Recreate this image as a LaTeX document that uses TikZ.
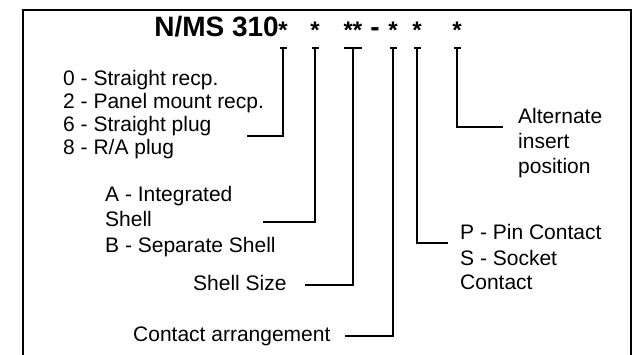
\documentclass[tikz,border=0pt]{standalone}
\usepackage{fontspec}
\setmainfont{Liberation Sans}
\begin{document}
\begin{tikzpicture}[x=1pt, y=-1pt, font=\fontsize{21}{24}\selectfont,
  lbl/.style={anchor=base west, inner sep=0pt},
  code/.style={anchor=base, inner sep=0pt, font=\fontsize{24}{28}\selectfont\bfseries},
  tee/.style={line width=2.4pt, draw=black},
  lead/.style={line width=1.4pt, draw=black}]
\useasboundingbox (0,0) rectangle (635,355);
% frame, open at the bottom
\draw[line width=2.2pt] (23,355) -- (23,10) -- (631,10) -- (631,355);
% ---- part number
\node[anchor=base east, inner sep=0pt, font=\fontsize{28}{32}\selectfont\bfseries] (title) at (279,37) {N/MS 310};
\node[anchor=base, inner sep=0pt, font=\fontsize{28}{32}\selectfont\bfseries] (dash) at (375,37) {-};
\foreach \n/\x/\s/\w in {1/283/*/3.5, 2/315/*/3.5, 3/353/**/9, 4/393/*/3.5, 5/417/*/3.5, 6/457/*/3.5} {
  \node[code] (s\n) at (\x,39) {\s};
  \coordinate (t\n) at (\x,48);
  \draw[tee] (\x-\w,48) -- (\x+\w,48);
}
% ---- left labels
\node[lbl] (rcp0) at (63,86) {0 - Straight recp.};
\node[lbl] (rcp2) at (63,109) {2 - Panel mount recp.};
\node[lbl] (plug6) at (63,132) {6 - Straight plug};
\node[lbl] (plug8) at (63,155) {8 - R/A plug};
\node[lbl] (shA) at (105,202) {A - Integrated};
\node[lbl] (shA2) at (105,227) {Shell};
\node[lbl] (shB) at (105,253) {B - Separate Shell};
\node[lbl] (size) at (193,291) {Shell Size};
\node[lbl] (arr) at (133,342) {Contact arrangement};
% ---- right labels
\node[lbl] (alt1) at (518,124) {Alternate};
\node[lbl] (alt2) at (518,149) {insert};
\node[lbl] (alt3) at (518,174) {position};
\node[lbl] (pin) at (460,240) {P - Pin Contact};
\node[lbl] (sock) at (460,266) {S - Socket};
\node[lbl] (sock2) at (460,290) {Contact};
% ---- leaders
\coordinate (e1) at (247,136);
\coordinate (e2) at (263,222);
\coordinate (e3) at (305,285);
\coordinate (e4) at (345,336);
\coordinate (e5) at (448,243);
\coordinate (e6) at (503,127);
\foreach \n in {1,...,6} \draw[lead] (t\n) |- (e\n);
\end{tikzpicture}
\end{document}
